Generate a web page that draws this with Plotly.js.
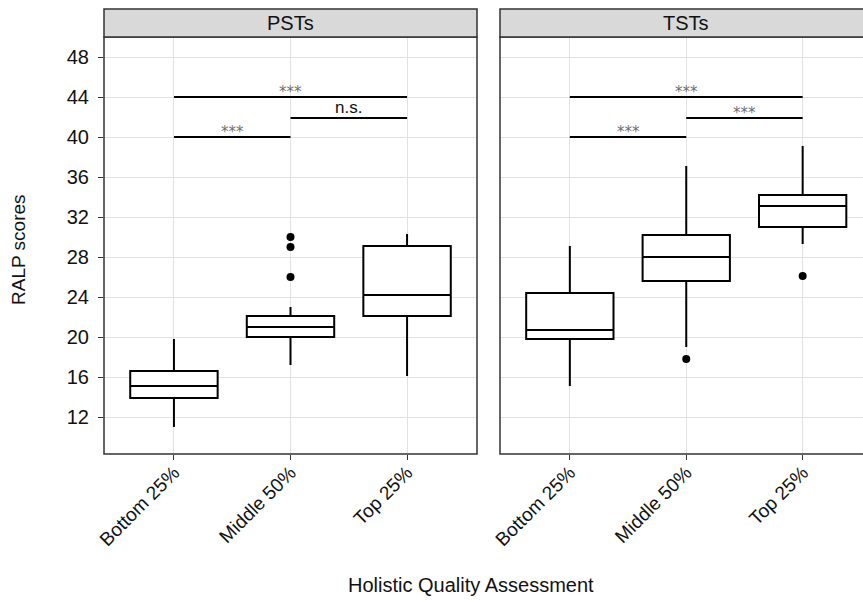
<!DOCTYPE html>
<html>
<head>
<meta charset="utf-8">
<script src="https://cdn.plot.ly/plotly-3.0.1.min.js"></script>
<style>html,body{margin:0;padding:0;background:#fff;}#chart{width:863px;height:600px;}</style>
</head>
<body>
<div id="chart"></div>
<script>
// ---- data ----
const categories = ['Bottom 25%', 'Middle 50%', 'Top 25%'];
const facets = ['PSTs', 'TSTs'];

// PSTs box statistics
const pstLower  = [11.0, 17.2, 16.1];
const pstQ1     = [13.9, 20.0, 22.1];
const pstMedian = [15.1, 21.0, 24.2];
const pstQ3     = [16.6, 22.1, 29.1];
const pstUpper  = [19.8, 23.0, 30.3];
const pstOutX   = ['Middle 50%', 'Middle 50%', 'Middle 50%'];
const pstOutY   = [30.0, 29.0, 26.0];

// TSTs box statistics
const tstLower  = [15.1, 19.0, 29.3];
const tstQ1     = [19.8, 25.6, 31.0];
const tstMedian = [20.7, 28.0, 33.1];
const tstQ3     = [24.4, 30.2, 34.2];
const tstUpper  = [29.1, 37.1, 39.1];
const tstOutX   = ['Middle 50%', 'Top 25%'];
const tstOutY   = [17.8, 26.1];

// significance comparisons
const pstSigFrom  = ['Bottom 25%', 'Middle 50%', 'Bottom 25%'];
const pstSigTo    = ['Top 25%', 'Top 25%', 'Middle 50%'];
const pstSigY     = [44.0, 41.9, 40.0];
const pstSigLabel = ['***', 'n.s.', '***'];

const tstSigFrom  = ['Bottom 25%', 'Middle 50%', 'Bottom 25%'];
const tstSigTo    = ['Top 25%', 'Top 25%', 'Middle 50%'];
const tstSigY     = [44.0, 41.9, 40.0];
const tstSigLabel = ['***', '***', '***'];

const yTitle = 'RALP scores';
const xTitle = 'Holistic Quality Assessment';

// ---- build ----
const FONT = '"Liberation Sans", Arial, Helvetica, sans-serif';
const STARFONT = '"DejaVu Sans", sans-serif';
const traces = [];
const annotations = [];

function addFacet(xa, ya, lower, q1, med, q3, upper, outX, outY, sFrom, sTo, sY, sLab) {
  traces.push({
    type: 'box', x: categories, q1: q1, median: med, q3: q3,
    lowerfence: lower, upperfence: upper,
    boxpoints: false, width: 0.75, whiskerwidth: 0,
    line: {color: '#000', width: 2}, fillcolor: '#fff',
    xaxis: xa, yaxis: ya, showlegend: false, hoverinfo: 'skip'
  });
  traces.push({
    type: 'scatter', mode: 'markers', x: outX, y: outY,
    marker: {color: '#000', size: 8},
    xaxis: xa, yaxis: ya, showlegend: false, hoverinfo: 'skip'
  });
  for (let i = 0; i < sY.length; i++) {
    traces.push({
      type: 'scatter', mode: 'lines', x: [sFrom[i], sTo[i]], y: [sY[i], sY[i]],
      line: {color: '#000', width: 2},
      xaxis: xa, yaxis: ya, showlegend: false, hoverinfo: 'skip'
    });
    const mid = (categories.indexOf(sFrom[i]) + categories.indexOf(sTo[i])) / 2;
    const isStar = sLab[i].indexOf('*') >= 0;
    annotations.push({
      xref: xa, yref: ya, x: mid, y: sY[i], text: sLab[i], showarrow: false,
      xanchor: 'center', yanchor: 'middle', yshift: isStar ? 5 : 11,
      font: {family: isStar ? STARFONT : FONT, size: isStar ? 15 : 17, color: isStar ? '#707070' : '#111'}
    });
  }
}

addFacet('x', 'y', pstLower, pstQ1, pstMedian, pstQ3, pstUpper, pstOutX, pstOutY,
         pstSigFrom, pstSigTo, pstSigY, pstSigLabel);
addFacet('x2', 'y2', tstLower, tstQ1, tstMedian, tstQ3, tstUpper, tstOutX, tstOutY,
         tstSigFrom, tstSigTo, tstSigY, tstSigLabel);

// layout geometry (pixels -> paper)
const W = 863, H = 600, mL = 104, mR = 0, mT = 37, mB = 146;
const pw = W - mL - mR, ph = H - mT - mB;
const leftEnd = (477 - mL) / pw, rightStart = (500 - mL) / pw, rightFull = (872.5 - mL) / pw;
const stripTop = 1 + 28 / ph;

const GRID = '#e2e2e2';
const axisCommon = {
  type: 'category', categoryorder: 'array', categoryarray: categories,
  showgrid: true, gridcolor: GRID, gridwidth: 1,
  ticks: 'outside', ticklen: 5, tickcolor: '#333', tickwidth: 1,
  tickangle: -45, tickfont: {family: FONT, size: 19, color: '#111'},
  ticklabelstandoff: -6,
  showline: false, zeroline: false, fixedrange: true
};

const shapes = [];
facets.forEach(function (f, i) {
  const x0 = i === 0 ? 0 : rightStart;
  const x1 = i === 0 ? leftEnd : rightFull;
  // panel border
  shapes.push({type: 'rect', xref: 'paper', yref: 'paper', x0: x0, x1: x1, y0: 0, y1: 1,
               fillcolor: 'rgba(0,0,0,0)', line: {color: '#333', width: 1.5}, layer: 'above'});
  // strip
  shapes.push({type: 'rect', xref: 'paper', yref: 'paper', x0: x0, x1: x1, y0: 1, y1: stripTop,
               fillcolor: '#d9d9d9', line: {color: '#333', width: 1.5}, layer: 'above'});
  annotations.push({xref: 'paper', yref: 'paper', x: (x0 + x1) / 2, y: (1 + stripTop) / 2,
                    text: f, showarrow: false, xanchor: 'center', yanchor: 'middle',
                    font: {family: FONT, size: 20, color: '#111'}});
});

annotations.push({xref: 'paper', yref: 'paper', x: (471 - mL) / pw, y: -(585 - (H - mB)) / ph,
                  text: xTitle, showarrow: false, xanchor: 'center', yanchor: 'middle',
                  font: {family: FONT, size: 20, color: '#111'}});
annotations.push({xref: 'paper', yref: 'paper', x: (19 - mL) / pw, y: ((H - mB) - 250) / ph,
                  text: yTitle, showarrow: false, textangle: -90, xanchor: 'center', yanchor: 'middle',
                  font: {family: FONT, size: 19, color: '#111'}});

const layout = {
  width: W, height: H,
  margin: {l: mL, r: mR, t: mT, b: mB, pad: 0},
  paper_bgcolor: '#fff', plot_bgcolor: '#fff',
  showlegend: false,
  xaxis: Object.assign({}, axisCommon, {domain: [0, leftEnd], range: [-0.6, 2.6], anchor: 'y'}),
  xaxis2: Object.assign({}, axisCommon, {domain: [rightStart, 1], range: [-0.6, 2.6 - 9.5 / 116.4], anchor: 'y2'}),
  yaxis: {
    domain: [0, 1], range: [8.3, 50], dtick: 4, tick0: 0, anchor: 'x',
    showgrid: true, gridcolor: GRID, gridwidth: 1,
    ticks: 'outside', ticklen: 5, tickcolor: '#333', tickwidth: 1, ticklabelstandoff: 5,
    tickfont: {family: FONT, size: 20, color: '#111'},
    showline: false, zeroline: false, fixedrange: true
  },
  yaxis2: {
    domain: [0, 1], range: [8.3, 50], dtick: 4, tick0: 0, anchor: 'x2', matches: 'y',
    showgrid: true, gridcolor: GRID, gridwidth: 1,
    ticks: '', showticklabels: false,
    showline: false, zeroline: false, fixedrange: true
  },
  shapes: shapes,
  annotations: annotations
};

Plotly.newPlot('chart', traces, layout, {staticPlot: true, displayModeBar: false});
</script>
</body>
</html>
